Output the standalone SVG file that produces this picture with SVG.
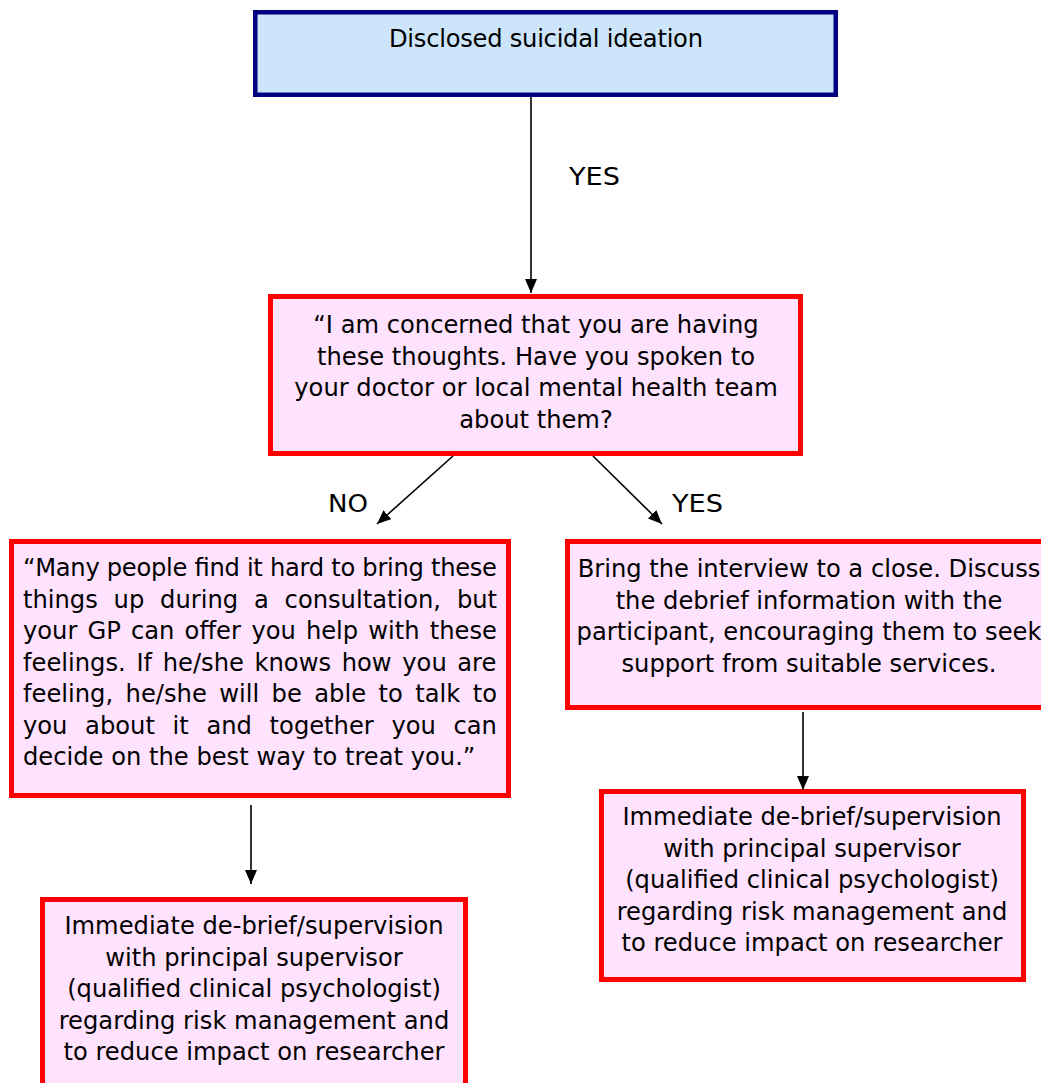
<svg xmlns="http://www.w3.org/2000/svg" width="1041" height="1083" viewBox="0 0 1041 1083">
<style>
text{font-family:"DejaVu Sans","Verdana",sans-serif;font-size:24.2px;fill:#000;}
.c{text-anchor:middle;}
.blue{fill:#CCE5FB;stroke:#000080;stroke-width:4.5;}
.pink{fill:#FFE2FD;stroke:#FF0000;stroke-width:5;}
.conn line{stroke:#000;stroke-width:1.6;marker-end:url(#ah);}
</style>
<defs>
<marker id="ah" markerUnits="userSpaceOnUse" markerWidth="14" markerHeight="12" viewBox="0 0 14 12" refX="14" refY="6" orient="auto">
<path d="M0,0 L14,6 L0,12 z" fill="#000"/>
</marker>
</defs>
<rect width="1041" height="1083" fill="#fff"/>
<g id="n1">
<rect class="blue" x="255.25" y="12.25" width="580.5" height="82.5"/>
<text class="c" x="546" y="47" textLength="314" lengthAdjust="spacing">Disclosed suicidal ideation</text>
</g>
<g id="n2">
<rect class="pink" x="270.5" y="296.5" width="530" height="157"/>
<text class="c" x="536" y="333">“I am concerned that you are having</text>
<text class="c" x="536" y="364.5">these thoughts. Have you spoken to</text>
<text class="c" x="536" y="396">your doctor or local mental health team</text>
<text class="c" x="536" y="427.5">about them?</text>
</g>
<g id="n3">
<rect class="pink" x="11.5" y="541.5" width="497" height="254"/>
<text x="23" y="576" textLength="474" lengthAdjust="spacing">“Many people find it hard to bring these</text>
<text y="607.5"><tspan x="23">things</tspan><tspan x="113.6">up</tspan><tspan x="160.1">during</tspan><tspan x="254">a</tspan><tspan x="284.6">consultation,</tspan><tspan x="456.9">but</tspan></text>
<text y="639"><tspan x="23">your</tspan><tspan x="87.5">GP</tspan><tspan x="131">can</tspan><tspan x="184.6">offer</tspan><tspan x="251.4">you</tspan><tspan x="305.9">help</tspan><tspan x="368.3">with</tspan><tspan x="429.8">these</tspan></text>
<text y="670.5"><tspan x="23">feelings.</tspan><tspan x="136.4">If</tspan><tspan x="162.7">he/she</tspan><tspan x="254.5">knows</tspan><tspan x="341.7">how</tspan><tspan x="402.3">you</tspan><tspan x="457.3">are</tspan></text>
<text y="702"><tspan x="23">feeling,</tspan><tspan x="125.6">he/she</tspan><tspan x="219.2">will</tspan><tspan x="271.6">be</tspan><tspan x="314.3">able</tspan><tspan x="378.5">to</tspan><tspan x="415.2">talk</tspan><tspan x="472.7">to</tspan></text>
<text y="733.5"><tspan x="23">you</tspan><tspan x="85.1">about</tspan><tspan x="172.6">it</tspan><tspan x="206.4">and</tspan><tspan x="269.6">together</tspan><tspan x="391.4">you</tspan><tspan x="453.5">can</tspan></text>
<text x="23" y="765">decide on the best way to treat you.”</text>
</g>
<g id="n4">
<rect class="pink" x="567.5" y="541.5" width="490" height="166"/>
<text class="c" x="809" y="577">Bring the interview to a close. Discuss</text>
<text class="c" x="809" y="608.5">the debrief information with the</text>
<text class="c" x="809" y="640">participant, encouraging them to seek</text>
<text class="c" x="809" y="671.5">support from suitable services.</text>
</g>
<g id="n5">
<rect class="pink" x="42.5" y="899.5" width="423" height="200"/>
<text class="c" x="254" y="934">Immediate de-brief/supervision</text>
<text class="c" x="254" y="965.5">with principal supervisor</text>
<text class="c" x="254" y="997">(qualified clinical psychologist)</text>
<text class="c" x="254" y="1028.5">regarding risk management and</text>
<text class="c" x="254" y="1060">to reduce impact on researcher</text>
</g>
<g id="n6">
<rect class="pink" x="601.5" y="791.5" width="422" height="188"/>
<text class="c" x="812" y="825">Immediate de-brief/supervision</text>
<text class="c" x="812" y="856.5">with principal supervisor</text>
<text class="c" x="812" y="888">(qualified clinical psychologist)</text>
<text class="c" x="812" y="919.5">regarding risk management and</text>
<text class="c" x="812" y="951">to reduce impact on researcher</text>
</g>
<g id="connectors" class="conn">
<line x1="531" y1="97" x2="531" y2="293"/>
<line x1="453" y1="456" x2="377" y2="524"/>
<line x1="593" y1="456" x2="662" y2="524"/>
<line x1="251" y1="805" x2="251" y2="884"/>
<line x1="803" y1="712" x2="803" y2="790"/>
</g>
<g id="labels">
<text x="569" y="185" textLength="51" lengthAdjust="spacingAndGlyphs">YES</text>
<text x="328" y="512" textLength="40" lengthAdjust="spacingAndGlyphs">NO</text>
<text x="672" y="512" textLength="51" lengthAdjust="spacingAndGlyphs">YES</text>
</g>
</svg>
